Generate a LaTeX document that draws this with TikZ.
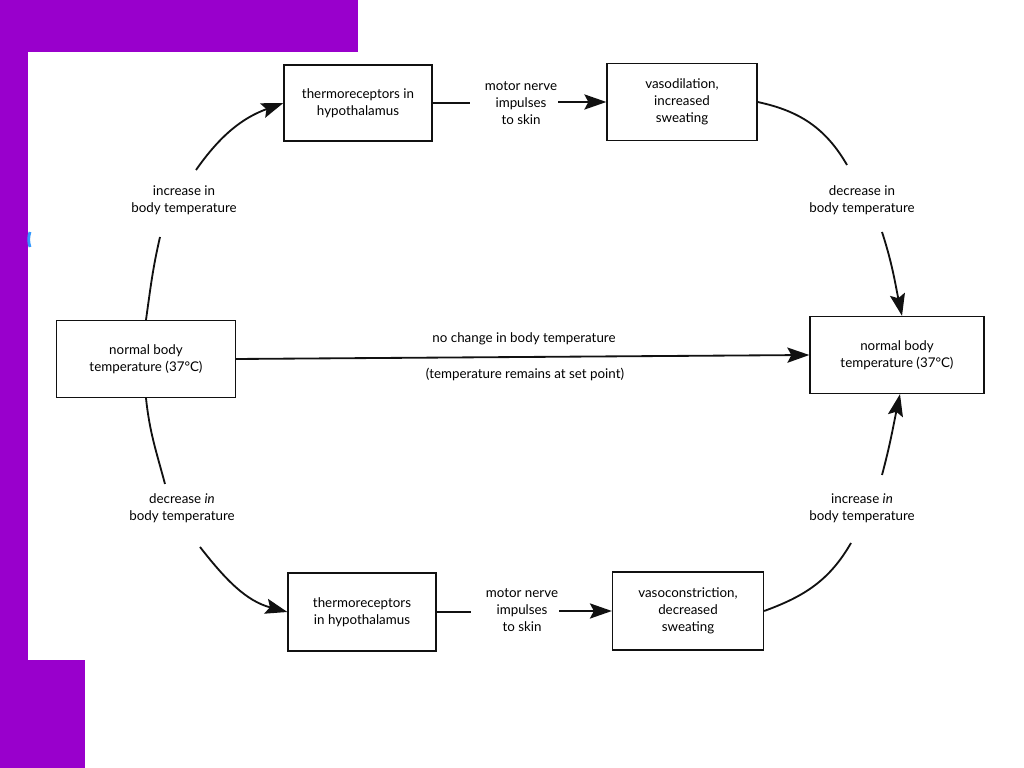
\documentclass[tikz,border=0pt]{standalone}
\usepackage{fontspec}
\setmainfont{Lato}
\usetikzlibrary{arrows.meta,calc}
\definecolor{Ink}{HTML}{111111}
\definecolor{Violet}{HTML}{9900CC}
\definecolor{Speck}{HTML}{3399FF}
\newlength\pxu
\setlength\pxu{0.025cm}
\tikzset{
  stage/.style={
    draw=Ink, line width=0.9pt, fill=white,
    align=center, inner sep=0pt, font=\fontsize{9.5}{12}\selectfont
  },
  cue/.style={align=center, inner sep=2pt, font=\fontsize{9.5}{12}\selectfont},
  link/.style={line width=1.3pt, draw=Ink},
  flow/.style={-{Stealth[length=5.5mm,width=3.8mm,inset=1mm]}, line width=1.3pt, draw=Ink}
}
\begin{document}
\begin{tikzpicture}[x=\pxu,y=\pxu]
    \useasboundingbox (0,0) rectangle (1024,768);
    % backdrop
    \fill[Violet] (0,716) rectangle (358,768);
    \fill[Violet] (0,108) rectangle (28,768);
    \fill[Violet] (0,0) rectangle (85,108);
    \draw[Speck, line width=2pt] (30,536) arc (160:200:22);
    % boxes
    \node[stage,minimum width=148\pxu,minimum height=76\pxu] (thermoTop) at (358,665) {thermoreceptors in\\hypothalamus};
    \node[stage,minimum width=150\pxu,minimum height=77\pxu] (vasoTop) at (682,666) {vasodilation,\\increased\\sweating};
    \node[stage,minimum width=179\pxu,minimum height=77\pxu] (normalL) at (146,409) {normal body\\temperature (37°C)};
    \node[stage,minimum width=174\pxu,minimum height=77\pxu] (normalR) at (897,413) {normal body\\temperature (37°C)};
    \node[stage,minimum width=148\pxu,minimum height=78\pxu] (thermoBot) at (362,156) {thermoreceptors\\in hypothalamus};
    \node[stage,minimum width=151\pxu,minimum height=78\pxu] (vasoBot) at (688,157) {vasoconstriction,\\decreased\\sweating};
    % labels
    \node[cue] (motorTop) at (521,665) {motor nerve\\impulses\\to skin};
    \node[cue] (motorBot) at (522,158) {motor nerve\\impulses\\to skin};
    \node[cue] (riseL) at (184,568) {increase in\\body temperature};
    \node[cue] (fallR) at (862,568) {decrease in\\body temperature};
    \node[cue] (fallL) at (182,260) {decrease \textit{in}\\body temperature};
    \node[cue] (riseR) at (862,260) {increase \textit{in}\\body temperature};
    \node[cue] (steady) at (524,429) {no change in body temperature};
    \node[cue] (setpt) at (525,394) {(temperature remains at set point)};
    % top route
    \draw[link] (normalL.north) to[out=82,in=-103] ($(riseL)+(-24,-37)$);
    \draw[flow] ($(riseL)+(12,30)$) to[out=55,in=200] (thermoTop.west);
    \draw[link] (thermoTop.east) -- ($(thermoTop.east -| motorTop.west)+(-12,0)$);
    \draw[flow] ($(vasoTop.west -| motorTop.east)+(-2,0)$) -- (vasoTop.west);
    \draw[link] (vasoTop.east) to[out=-12,in=120] ($(fallR)+(-15,35)$);
    \draw[flow] ($(fallR)+(20,-32)$) to[out=-72,in=102] ($(normalR.north)+(5,0)$);
    % middle
    \draw[flow] (normalL.east) -- (normalR.west);
    % bottom route
    \draw[link] (normalL.south) to[out=-84,in=105] ($(fallL)+(-17,24)$);
    \draw[flow] ($(fallL)+(18,-39)$) to[out=-52,in=165] (thermoBot.west);
    \draw[link] (thermoBot.east) -- ($(thermoBot.east -| motorBot.west)+(-12,0)$);
    \draw[flow] ($(vasoBot.west -| motorBot.east)+(-2,0)$) -- (vasoBot.west);
    \draw[link] (vasoBot.east) to[out=20,in=-120] ($(riseR)+(-11,-35)$);
    \draw[flow] ($(riseR)+(20,33)$) to[out=75,in=-102] ($(normalR.south)+(3,0)$);
\end{tikzpicture}
\end{document}
